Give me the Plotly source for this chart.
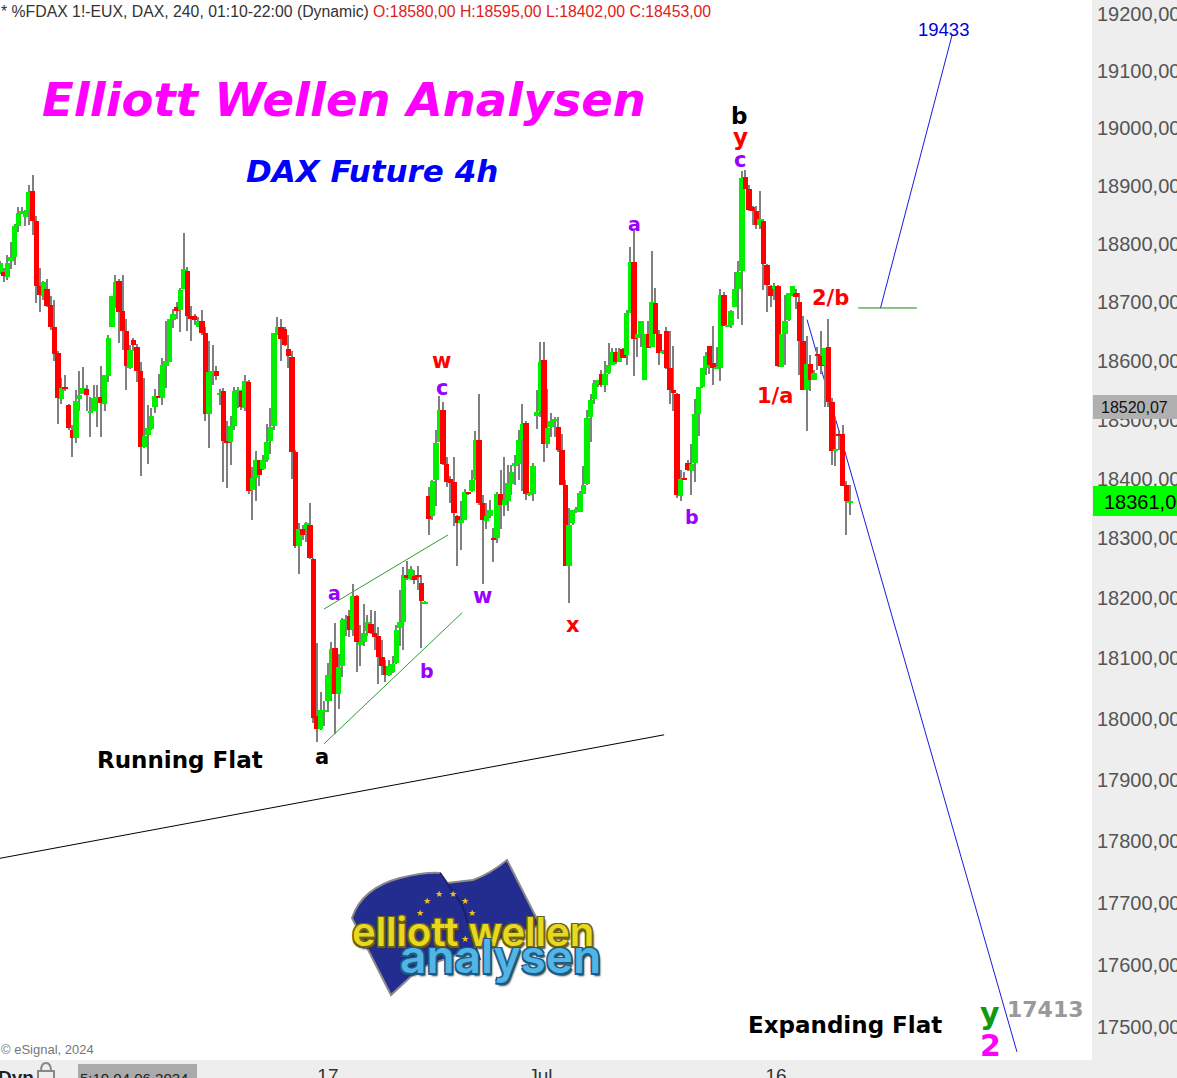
"""DAX Future 4h chart with Elliott wave labels."""

import plotly.graph_objects as go

opens = [
    18750,18751,18743,18770,18778,18830,18853,18847,18856,18892,
    18840,18728,18711,18722,18695,18657,18613,18535,18556,18524,
    18483,18469,18535,18544,18552,18512,18515,18535,18539,18527,
    18574,18658,18711,18737,18685,18650,18588,18635,18623,18582,
    18454,18474,18484,18521,18540,18537,18591,18598,18669,18692,
    18686,18722,18754,18676,18676,18658,18667,18647,18510,18580,
    18583,18542,18549,18464,18462,18490,18547,18549,18519,18564,
    18382,18402,18432,18417,18431,18464,18490,18647,18657,18654,
    18620,18606,18445,18288,18316,18315,18323,18266,18005,17983,
    18012,18029,18073,18117,18042,18088,18163,18170,18147,18203,
    18123,18127,18145,18157,18142,18137,18103,18088,18073,18078,
    18093,18150,18160,18239,18232,18237,18239,18226,18191,18371,
    18337,18398,18462,18516,18425,18400,18395,18337,18326,18331,
    18378,18379,18400,18466,18359,18330,18337,18301,18301,18374,
    18356,18363,18391,18422,18425,18466,18494,18373,18374,18506,
    18515,18601,18459,18488,18498,18488,18449,18390,18254,18325,
    18345,18345,18375,18392,18505,18535,18561,18577,18558,18579,
    18593,18615,18598,18620,18610,18681,18768,18638,18646,18568,
    18645,18624,18698,18646,18613,18650,18588,18551,18543,18371,
    18402,18427,18413,18427,18510,18556,18588,18625,18596,18586,
    18588,18713,18658,18661,18691,18723,18754,18916,18894,18864,
    18856,18832,18840,18763,18728,18722,18728,18589,18646,18670,
    18713,18715,18701,18634,18551,18594,18568,18612,18608,18593,
    18624,18530,18447,18476,18476,18390,18359,
]
highs = [
    18770,18759,18780,18804,18835,18863,18864,18859,18902,18918,
    18848,18758,18736,18739,18711,18704,18617,18571,18575,18526,
    18491,18551,18583,18589,18559,18539,18559,18558,18591,18575,
    18644,18711,18747,18739,18747,18671,18626,18639,18628,18597,
    18571,18524,18519,18552,18578,18605,18667,18672,18688,18700,
    18725,18819,18761,18693,18680,18674,18686,18657,18634,18626,
    18591,18552,18554,18497,18507,18556,18556,18551,18575,18568,
    18420,18447,18432,18440,18493,18519,18647,18674,18672,18657,
    18644,18616,18449,18325,18323,18327,18359,18267,18125,18044,
    18030,18092,18128,18159,18108,18167,18172,18181,18223,18206,
    18155,18191,18172,18181,18179,18153,18130,18098,18098,18104,
    18155,18214,18252,18262,18254,18247,18254,18239,18195,18387,
    18398,18482,18540,18530,18437,18404,18437,18340,18362,18383,
    18378,18415,18481,18544,18373,18359,18365,18317,18378,18415,
    18437,18423,18423,18440,18482,18526,18498,18378,18426,18550,
    18632,18632,18552,18511,18505,18505,18476,18398,18351,18348,
    18352,18380,18421,18517,18544,18567,18568,18584,18599,18630,
    18621,18622,18622,18622,18687,18794,18825,18646,18668,18646,
    18668,18787,18725,18653,18618,18658,18650,18625,18545,18415,
    18412,18432,18459,18535,18556,18588,18615,18625,18660,18624,
    18723,18718,18661,18687,18751,18771,18925,18928,18902,18866,
    18865,18892,18842,18765,18730,18732,18730,18645,18713,18715,
    18727,18722,18715,18676,18642,18610,18584,18624,18650,18622,
    18672,18537,18503,18483,18491,18397,18390,
]
lows = [
    18748,18734,18738,18756,18763,18820,18851,18831,18833,18815,
    18698,18683,18704,18691,18653,18600,18493,18526,18548,18483,
    18437,18460,18514,18544,18514,18471,18514,18488,18471,18515,
    18564,18657,18690,18630,18619,18551,18586,18616,18564,18404,
    18452,18425,18483,18512,18537,18524,18554,18598,18656,18671,
    18649,18722,18650,18633,18661,18657,18643,18498,18452,18559,
    18568,18524,18395,18385,18424,18483,18519,18517,18514,18375,
    18331,18363,18388,18415,18429,18442,18483,18644,18600,18625,
    18588,18399,18284,18240,18298,18294,18265,17994,17962,17982,
    17989,18012,18030,17976,18017,18069,18137,18136,18137,18078,
    18087,18121,18138,18140,18114,18058,18073,18061,18071,18076,
    18091,18121,18114,18230,18230,18223,18214,18117,18190,18306,
    18331,18355,18462,18423,18387,18360,18321,18254,18281,18331,
    18373,18378,18398,18356,18223,18315,18334,18261,18293,18315,
    18338,18346,18373,18390,18398,18379,18364,18371,18362,18484,
    18505,18428,18452,18471,18471,18446,18390,18254,18192,18323,
    18343,18345,18375,18390,18462,18527,18555,18555,18546,18577,
    18593,18595,18597,18605,18593,18681,18574,18606,18624,18568,
    18622,18624,18645,18593,18612,18586,18526,18515,18368,18363,
    18399,18413,18373,18394,18472,18554,18575,18577,18558,18586,
    18565,18659,18658,18656,18691,18672,18661,18894,18857,18833,
    18825,18825,18720,18683,18691,18704,18590,18589,18593,18668,
    18711,18688,18575,18550,18481,18548,18567,18584,18577,18521,
    18521,18424,18422,18448,18388,18305,18340,
]
closes = [
    18767,18744,18767,18777,18830,18854,18857,18857,18890,18840,
    18727,18713,18734,18693,18657,18611,18537,18554,18552,18486,
    18469,18532,18542,18554,18542,18515,18537,18539,18528,18575,
    18639,18710,18735,18683,18650,18591,18619,18626,18583,18454,
    18472,18486,18507,18540,18537,18593,18600,18671,18680,18685,
    18720,18756,18676,18672,18669,18667,18647,18510,18580,18583,
    18574,18545,18464,18460,18490,18549,18551,18521,18566,18380,
    18402,18432,18407,18431,18462,18488,18647,18658,18637,18626,
    18608,18445,18288,18316,18306,18325,18267,18002,17983,18015,
    18015,18073,18116,18042,18086,18164,18165,18147,18204,18127,
    18127,18143,18160,18143,18135,18103,18088,18073,18088,18091,
    18148,18160,18239,18234,18249,18230,18236,18196,18194,18333,
    18396,18461,18516,18425,18395,18393,18342,18326,18331,18378,
    18374,18398,18466,18359,18331,18338,18347,18298,18374,18356,
    18364,18393,18412,18426,18466,18493,18374,18376,18422,18513,
    18598,18459,18486,18498,18501,18449,18390,18254,18323,18347,
    18349,18376,18390,18503,18533,18562,18567,18558,18577,18593,
    18615,18598,18615,18605,18681,18768,18637,18645,18668,18645,
    18622,18701,18646,18613,18617,18588,18550,18545,18373,18400,
    18399,18415,18425,18510,18556,18588,18608,18593,18588,18589,
    18713,18660,18661,18685,18723,18751,18914,18894,18859,18857,
    18833,18842,18765,18730,18711,18727,18591,18645,18668,18715,
    18727,18708,18633,18551,18594,18568,18579,18608,18591,18622,
    18530,18447,18450,18472,18388,18363,18363,
]

price_ticks = [19200, 19100, 19000, 18900, 18800, 18700, 18600, 18500, 18400,
               18300, 18200, 18100, 18000, 17900, 17800, 17700, 17600, 17500]
date_ticks = [91, 150, 215.5]
date_labels = ["17", "Jul", "16"]

# hand drawn lines: (bar x0, price0, bar x1, price1)
support_line = (-0.1, 17772, 184.4, 17974)
channel_upper = (89.9, 18182, 124.4, 18306)
channel_lower = (89.9, 17959, 128.3, 18176)
target_up = (244.5, 18690, 264.4, 19163)
target_down = (224.1, 18670, 282.4, 17460)
level_line = (238.3, 18690, 254.6, 18690)

W, PLOT_W, H, PLOT_H = 1177, 1092, 1078, 1060
PURPLE = "#9900ff"
RED = "#ff0000"
BOLD = "DejaVu Sans"
ARIAL = "Liberation Sans"


def px(x):
    return x / PLOT_W


def py(y):
    return 1 - y / PLOT_H


x = list(range(len(opens)))
fig = go.Figure()
# dochte zuerst, koerper darueber
fig.add_trace(go.Bar(x=x, base=lows, y=[h - l for h, l in zip(highs, lows)], width=0.28,
                     marker=dict(color="#808080", line_width=0), hoverinfo="skip"))
fig.add_trace(go.Bar(x=x, base=[min(o, c) for o, c in zip(opens, closes)],
                     y=[abs(c - o) for o, c in zip(opens, closes)], width=1.5,
                     marker=dict(color=["#00f000" if c >= o else RED for o, c in zip(opens, closes)],
                                 line_width=0), hoverinfo="skip"))


def add_line(coords, color):
    fig.add_shape(type="line", xref="x", yref="y", x0=coords[0], y0=coords[1], x1=coords[2],
                  y1=coords[3], line=dict(color=color, width=1), layer="below")


add_line(support_line, "#000000")
add_line(channel_upper, "#2e9e2e")
add_line(channel_lower, "#2e9e2e")
add_line(target_up, "#1a1ae0")
add_line(target_down, "#1a1ae0")
add_line(level_line, "#118811")


def add_text(x_px, y_px, text, color, size, family=BOLD, weight="bold", style="normal",
             anchor="center", yanchor="middle", shadow=None):
    font = dict(color=color, size=size, family=family, weight=weight, style=style)
    if shadow:
        font["shadow"] = shadow
    fig.add_annotation(x=px(x_px), y=py(y_px), xref="paper", yref="paper", text=text, showarrow=False,
                       xanchor=anchor, yanchor=yanchor, font=font, align="left", borderpad=0)


# kopfzeile
add_text(0, 11, "* %FDAX 1!-EUX, DAX, 240, 01:10-22:00 (Dynamic)", "#333333", 15.8, ARIAL, "normal", anchor="left")
add_text(372, 11, "O:18580,00 H:18595,00 L:18402,00 C:18453,00", "#e02020", 15.8, ARIAL, "normal", anchor="left")
add_text(344, 100, "Elliott Wellen Analysen", "#ff00ff", 46.5, style="italic")
add_text(372, 171, "DAX Future 4h", "#0000ff", 31, style="italic")

# wellen
wave_labels = [
    (739, 116, "b", "#000000", 23), (740, 137, "y", RED, 23), (740, 160, "c", PURPLE, 21),
    (634, 224, "a", PURPLE, 19), (441, 361, "w", RED, 21), (442, 388, "c", PURPLE, 21),
    (334, 593, "a", PURPLE, 19), (482, 596, "w", PURPLE, 21), (573, 625, "x", RED, 21),
    (692, 517, "b", PURPLE, 19), (427, 671, "b", PURPLE, 19), (322, 757, "a", "#000000", 21),
    (775, 396, "1/a", RED, 21), (830, 298, "2/b", RED, 21),
    (180, 760, "Running Flat", "#000000", 23), (845, 1025, "Expanding Flat", "#000000", 23),
    (990, 1013, "y", "#119911", 30), (990, 1045, "2", "#ff00ff", 30), (1045, 1009, "17413", "#999999", 22),
]
for lx, ly, text, color, size in wave_labels:
    add_text(lx, ly, text, color, size)
add_text(943, 30, "19433", "#0000dd", 18.5, ARIAL, "normal")
add_text(0, 1049, "© eSignal, 2024", "#777777", 13, ARIAL, "normal", anchor="left")

# logo
fig.add_shape(type="path", xref="paper", yref="paper", layer="above", line=dict(color="#8a8a8a", width=2),
              fillcolor="#232c8f",
              path="M %f %f Q %f %f %f %f Q %f %f %f %f L %f %f L %f %f Q %f %f %f %f L %f %f L %f %f L %f %f Z" % (
                  px(352), py(918), px(362), py(888), px(400), py(878), px(425), py(872), px(440), py(873),
                  px(447), py(883), px(473), py(880), px(490), py(874), px(507), py(860),
                  px(540), py(925), px(420), py(968), px(391), py(995)))
fig.add_shape(type="path", xref="paper", yref="paper", layer="above", line=dict(color="#1a2070", width=2),
              path="M %f %f L %f %f L %f %f" % (px(440), py(873), px(462), py(905), px(480), py(960)))
star_x = [427, 439, 453, 465, 472, 472, 465, 420, 427]
star_y = [901, 894, 894, 901, 913, 926, 939, 913, 937]
for sx, sy in zip(star_x, star_y):
    add_text(sx, sy, "★", "#f0c020", 9, "DejaVu Sans", "normal")
outline = "-1.5px -1.5px 0 %s, 1.5px -1.5px 0 %s, -1.5px 1.5px 0 %s, 1.5px 1.5px 0 %s, 2px 3px 2px #333"
add_text(473, 931, "elliott wellen", "#e8d820", 40, "Inter", 600, shadow=outline % (("#6e6410",) * 4))
add_text(500, 956, "analysen", "#55b4e6", 46, "Inter", 600, shadow=outline % (("#175d88",) * 4))

# preisschilder rechts
fig.add_shape(type="rect", xref="paper", yref="paper", x0=px(1093), x1=px(W), y0=py(395), y1=py(419),
              fillcolor="#b0b0b0", line_width=0, layer="above")
add_text(1100, 407, "18520,07", "#111111", 16, ARIAL, "normal", anchor="left")
fig.add_shape(type="rect", xref="paper", yref="paper", x0=px(1093), x1=px(W), y0=py(486), y1=py(516),
              fillcolor="#00ff00", line_width=0, layer="above")
add_text(1103, 502, "18361,00", "#000000", 20, ARIAL, "normal", anchor="left")

# untere leiste
fig.add_shape(type="rect", xref="paper", yref="paper", x0=px(78), x1=px(197), y0=py(1064), y1=py(1078),
              fillcolor="#aaaaaa", line_width=0, layer="above")
add_text(79, 1069, "5:10 04.06.2024", "#222222", 15, ARIAL, "normal", anchor="left", yanchor="top")
add_text(-3, 1066, "Dyn", "#222222", 19, ARIAL, "bold", anchor="left", yanchor="top")
fig.add_shape(type="path", xref="paper", yref="paper", layer="above", line=dict(color="#888888", width=2),
              path="M %f %f L %f %f L %f %f L %f %f Z M %f %f Q %f %f %f %f Q %f %f %f %f" % (
                  px(38), py(1071), px(54), py(1071), px(54), py(1082), px(38), py(1082),
                  px(41), py(1071), px(41), py(1063), px(46), py(1063), px(51), py(1063), px(51), py(1071)))

fig.update_layout(
    width=W, height=H, margin=dict(l=0, r=W - PLOT_W, t=0, b=H - PLOT_H, autoexpand=False),
    barmode="overlay", bargap=0, showlegend=False,
    plot_bgcolor="#ffffff", paper_bgcolor="#eeeeee",
    font=dict(family=ARIAL),
    xaxis=dict(range=[-0.08, 303.25], showgrid=False, zeroline=False, showline=False, ticks="",
               tickmode="array", tickvals=date_ticks, ticktext=date_labels, ticklabelstandoff=2,
               tickfont=dict(size=19, color="#333333")),
    yaxis=dict(type="log", range=[4.24172, 4.28385], side="right", showgrid=False, zeroline=False,
               showline=False, ticks="", tickmode="array", tickvals=price_ticks, ticklabelstandoff=4,
               ticktext=[f"{p},00" for p in price_ticks], tickfont=dict(size=20, color="#555555")),
)

fig.write_html("out.html", config=dict(displayModeBar=False),
               post_script="document.body.style.margin='0';document.documentElement.style.overflow='hidden';")
